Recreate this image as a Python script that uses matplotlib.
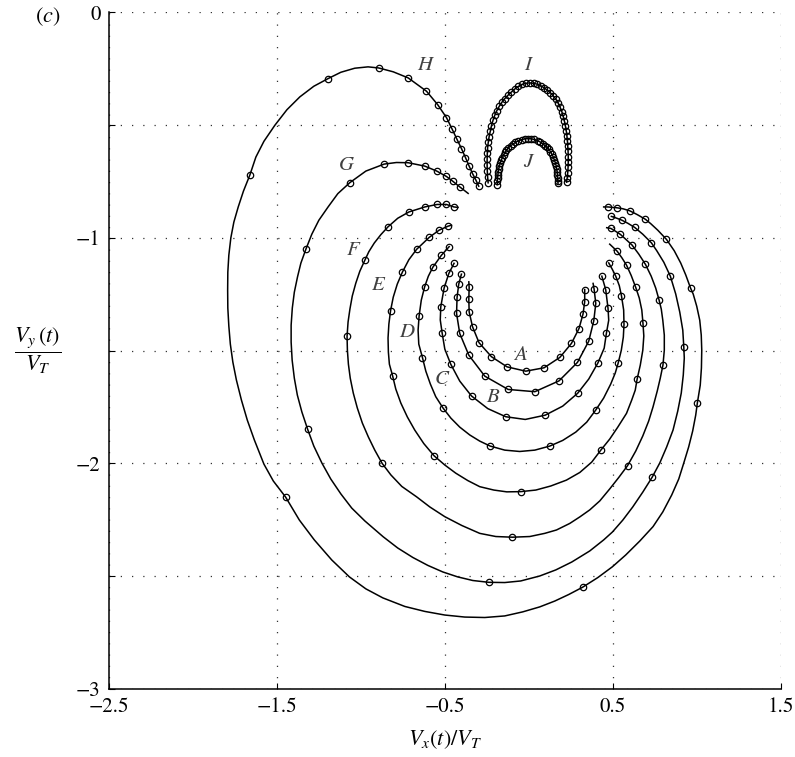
import matplotlib
matplotlib.use("Agg")
import matplotlib.pyplot as plt

plt.rcParams['font.family'] = 'STIXGeneral'
plt.rcParams['mathtext.fontset'] = 'stix'

# trajectories A..H : (Vx/VT, Vy/VT, 1 = sample marker / 0 = line only)
curve_A = [(-0.357, -1.195, 0), (-0.355, -1.220, 1), (-0.357, -1.272, 1), (-0.355, -1.328, 1),
           (-0.335, -1.394, 1), (-0.296, -1.465, 1), (-0.222, -1.527, 1), (-0.129, -1.572, 1),
           (-0.018, -1.591, 1), (0.091, -1.576, 1), (0.185, -1.530, 1), (0.254, -1.468, 1),
           (0.299, -1.402, 1), (0.323, -1.338, 1), (0.333, -1.283, 1), (0.333, -1.229, 1)]

curve_B = [(-0.401, -1.161, 1), (-0.417, -1.205, 1), (-0.427, -1.264, 1), (-0.430, -1.335, 1),
           (-0.411, -1.424, 1), (-0.357, -1.520, 1), (-0.262, -1.613, 1), (-0.123, -1.672, 1),
           (0.036, -1.682, 1), (0.180, -1.634, 1), (0.290, -1.552, 1), (0.357, -1.458, 1),
           (0.387, -1.368, 1), (0.399, -1.291, 1), (0.389, -1.227, 1), (0.383, -1.202, 0)]

curve_C = [(-0.445, -1.113, 1), (-0.476, -1.158, 1), (-0.504, -1.222, 1), (-0.524, -1.306, 1),
           (-0.527, -1.364, 0), (-0.516, -1.421, 1), (-0.500, -1.493, 0), (-0.464, -1.561, 1),
           (-0.411, -1.635, 0), (-0.341, -1.701, 1), (-0.244, -1.757, 0), (-0.137, -1.793, 1),
           (-0.021, -1.805, 0), (0.098, -1.786, 1), (0.202, -1.746, 0), (0.291, -1.689, 1),
           (0.357, -1.626, 0), (0.412, -1.554, 1), (0.449, -1.489, 0), (0.462, -1.424, 1),
           (0.476, -1.365, 0), (0.472, -1.313, 1), (0.458, -1.229, 1), (0.435, -1.170, 1)]

curve_D = [(-0.474, -1.039, 1), (-0.520, -1.077, 1), (-0.571, -1.130, 1), (-0.598, -1.170, 0),
           (-0.620, -1.217, 1), (-0.640, -1.276, 0), (-0.653, -1.346, 1), (-0.659, -1.409, 0),
           (-0.655, -1.471, 0), (-0.633, -1.531, 1), (-0.613, -1.591, 0), (-0.586, -1.648, 0),
           (-0.554, -1.704, 0), (-0.510, -1.755, 1), (-0.464, -1.799, 0), (-0.411, -1.839, 0),
           (-0.351, -1.874, 0), (-0.292, -1.901, 0), (-0.230, -1.923, 1), (-0.143, -1.941, 0),
           (-0.054, -1.947, 0), (0.036, -1.941, 0), (0.125, -1.923, 1), (0.202, -1.898, 0),
           (0.280, -1.861, 0), (0.345, -1.817, 0), (0.399, -1.763, 1), (0.446, -1.710, 0),
           (0.488, -1.648, 0), (0.515, -1.599, 0), (0.532, -1.556, 1), (0.551, -1.498, 0),
           (0.563, -1.440, 0), (0.567, -1.384, 1), (0.565, -1.320, 0), (0.552, -1.257, 1),
           (0.539, -1.212, 0), (0.518, -1.170, 1), (0.497, -1.139, 0), (0.476, -1.111, 1)]

curve_E = [(-0.460, -0.944, 0), (-0.480, -0.948, 1), (-0.534, -0.966, 1), (-0.593, -0.998, 1),
           (-0.668, -1.051, 1), (-0.714, -1.097, 0), (-0.752, -1.151, 1), (-0.783, -1.205, 0),
           (-0.807, -1.263, 0), (-0.823, -1.323, 1), (-0.833, -1.382, 0), (-0.838, -1.444, 0),
           (-0.836, -1.506, 0), (-0.830, -1.560, 0), (-0.811, -1.611, 1), (-0.792, -1.670, 0),
           (-0.762, -1.732, 0), (-0.723, -1.794, 0), (-0.679, -1.852, 0), (-0.625, -1.912, 0),
           (-0.564, -1.966, 1), (-0.500, -2.007, 0), (-0.435, -2.043, 0), (-0.363, -2.076, 0),
           (-0.292, -2.103, 0), (-0.208, -2.118, 0), (-0.131, -2.126, 0), (-0.048, -2.125, 1),
           (0.042, -2.118, 0), (0.131, -2.100, 0), (0.224, -2.074, 0), (0.304, -2.040, 0),
           (0.375, -1.994, 0), (0.429, -1.941, 1), (0.482, -1.892, 0), (0.530, -1.839, 0),
           (0.582, -1.778, 0), (0.613, -1.719, 0), (0.634, -1.675, 0), (0.645, -1.627, 1),
           (0.664, -1.564, 0), (0.679, -1.498, 0), (0.685, -1.435, 0), (0.680, -1.379, 1),
           (0.673, -1.320, 0), (0.658, -1.267, 0), (0.637, -1.220, 1), (0.610, -1.167, 0),
           (0.582, -1.121, 1), (0.554, -1.088, 0), (0.526, -1.059, 1), (0.482, -1.028, 0)]

curve_F = [(-0.421, -0.865, 0), (-0.446, -0.863, 1), (-0.490, -0.852, 1), (-0.546, -0.852, 1),
           (-0.619, -0.863, 1), (-0.713, -0.885, 1), (-0.780, -0.913, 0), (-0.838, -0.951, 1),
           (-0.881, -0.986, 0), (-0.920, -1.023, 0), (-0.952, -1.061, 0), (-0.976, -1.099, 1),
           (-1.006, -1.148, 0), (-1.030, -1.201, 0), (-1.051, -1.258, 0), (-1.065, -1.316, 0),
           (-1.076, -1.373, 0), (-1.082, -1.436, 1), (-1.080, -1.498, 0), (-1.074, -1.560, 0),
           (-1.063, -1.622, 0), (-1.045, -1.688, 0), (-1.021, -1.754, 0), (-0.991, -1.821, 0),
           (-0.955, -1.883, 0), (-0.917, -1.941, 0), (-0.873, -2.000, 1), (-0.821, -2.051, 0),
           (-0.756, -2.102, 0), (-0.668, -2.148, 0), (-0.589, -2.193, 0), (-0.500, -2.236, 0),
           (-0.399, -2.275, 0), (-0.292, -2.310, 0), (-0.196, -2.324, 0), (-0.097, -2.327, 1),
           (0.006, -2.324, 0), (0.095, -2.310, 0), (0.165, -2.295, 0), (0.244, -2.266, 0),
           (0.304, -2.237, 0), (0.363, -2.206, 0), (0.423, -2.166, 0), (0.482, -2.113, 0),
           (0.536, -2.062, 0), (0.588, -2.010, 1), (0.637, -1.945, 0), (0.679, -1.878, 0),
           (0.714, -1.812, 0), (0.740, -1.749, 0), (0.765, -1.679, 0), (0.783, -1.622, 0),
           (0.799, -1.564, 1), (0.807, -1.498, 0), (0.807, -1.431, 0), (0.798, -1.365, 0),
           (0.789, -1.316, 0), (0.776, -1.276, 1), (0.756, -1.223, 0), (0.729, -1.170, 0),
           (0.695, -1.118, 1), (0.655, -1.072, 0), (0.615, -1.032, 1), (0.577, -1.006, 0),
           (0.546, -0.985, 1), (0.515, -0.970, 0), (0.488, -0.958, 1), (0.464, -0.955, 0)]

curve_G = [(-0.361, -0.803, 0), (-0.411, -0.774, 1), (-0.451, -0.750, 1), (-0.490, -0.728, 1),
           (-0.548, -0.704, 1), (-0.619, -0.682, 1), (-0.718, -0.667, 1), (-0.788, -0.666, 0),
           (-0.861, -0.673, 1), (-0.970, -0.704, 0), (-1.065, -0.755, 1), (-1.137, -0.804, 0),
           (-1.195, -0.863, 0), (-1.250, -0.922, 0), (-1.292, -0.984, 0), (-1.327, -1.050, 1),
           (-1.357, -1.112, 0), (-1.377, -1.173, 0), (-1.396, -1.241, 0), (-1.408, -1.311, 0),
           (-1.415, -1.387, 0), (-1.415, -1.462, 0), (-1.409, -1.542, 0), (-1.396, -1.622, 0),
           (-1.378, -1.697, 0), (-1.351, -1.772, 0), (-1.317, -1.848, 1), (-1.280, -1.923, 0),
           (-1.232, -1.998, 0), (-1.179, -2.069, 0), (-1.119, -2.135, 0), (-1.054, -2.198, 0),
           (-0.976, -2.255, 0), (-0.867, -2.325, 0), (-0.780, -2.375, 0), (-0.690, -2.417, 0),
           (-0.601, -2.452, 0), (-0.512, -2.481, 0), (-0.423, -2.503, 0), (-0.333, -2.519, 0),
           (-0.238, -2.527, 1), (-0.143, -2.528, 0), (-0.048, -2.521, 0), (0.065, -2.499, 0),
           (0.161, -2.472, 0), (0.256, -2.437, 0), (0.363, -2.388, 0), (0.446, -2.339, 0),
           (0.498, -2.304, 0), (0.560, -2.251, 0), (0.619, -2.193, 0), (0.679, -2.127, 0),
           (0.734, -2.062, 1), (0.780, -1.998, 0), (0.821, -1.927, 0), (0.859, -1.852, 0),
           (0.887, -1.768, 0), (0.908, -1.688, 0), (0.920, -1.608, 0), (0.926, -1.533, 0),
           (0.923, -1.483, 1), (0.917, -1.409, 0), (0.899, -1.329, 0), (0.875, -1.249, 0),
           (0.843, -1.170, 1), (0.804, -1.108, 0), (0.762, -1.057, 0), (0.730, -1.022, 1),
           (0.679, -0.984, 0), (0.631, -0.954, 1), (0.589, -0.935, 0), (0.555, -0.922, 1),
           (0.524, -0.913, 0), (0.492, -0.905, 1)]

curve_H = [(-0.298, -0.771, 1), (-0.315, -0.744, 1), (-0.335, -0.715, 1), (-0.355, -0.682, 1),
           (-0.377, -0.644, 1), (-0.401, -0.604, 1), (-0.427, -0.564, 1), (-0.457, -0.517, 1),
           (-0.490, -0.467, 1), (-0.543, -0.409, 1), (-0.609, -0.350, 1), (-0.718, -0.291, 1),
           (-0.807, -0.264, 0), (-0.893, -0.247, 1), (-0.957, -0.242, 0), (-1.036, -0.248, 0),
           (-1.119, -0.266, 0), (-1.195, -0.294, 1), (-1.280, -0.328, 0), (-1.363, -0.375, 0),
           (-1.440, -0.432, 0), (-1.512, -0.501, 0), (-1.577, -0.572, 0), (-1.625, -0.642, 0),
           (-1.661, -0.722, 1), (-1.699, -0.793, 0), (-1.730, -0.863, 0), (-1.756, -0.930, 0),
           (-1.774, -1.000, 0), (-1.786, -1.077, 0), (-1.792, -1.152, 0), (-1.793, -1.232, 0),
           (-1.792, -1.311, 0), (-1.786, -1.391, 0), (-1.777, -1.471, 0), (-1.762, -1.551, 0),
           (-1.741, -1.630, 0), (-1.711, -1.719, 0), (-1.676, -1.808, 0), (-1.634, -1.896, 0),
           (-1.577, -2.003, 0), (-1.521, -2.078, 0), (-1.448, -2.149, 1), (-1.366, -2.251, 0),
           (-1.277, -2.339, 0), (-1.173, -2.428, 0), (-1.068, -2.503, 0), (-0.970, -2.556, 0),
           (-0.869, -2.596, 0), (-0.738, -2.634, 0), (-0.619, -2.656, 0), (-0.500, -2.672, 0),
           (-0.381, -2.681, 0), (-0.262, -2.683, 0), (-0.143, -2.676, 0), (-0.036, -2.658, 0),
           (0.065, -2.636, 0), (0.155, -2.610, 0), (0.238, -2.581, 0), (0.320, -2.549, 1),
           (0.411, -2.506, 0), (0.498, -2.458, 0), (0.577, -2.406, 0), (0.661, -2.344, 0),
           (0.740, -2.280, 0), (0.798, -2.215, 0), (0.851, -2.140, 0), (0.893, -2.069, 0),
           (0.923, -1.998, 0), (0.952, -1.927, 0), (0.976, -1.856, 0), (0.994, -1.786, 0),
           (1.004, -1.731, 1), (1.021, -1.653, 0), (1.028, -1.577, 0), (1.030, -1.498, 0),
           (1.027, -1.431, 0), (1.018, -1.365, 0), (1.000, -1.303, 0), (0.979, -1.249, 0),
           (0.964, -1.224, 1), (0.935, -1.165, 0), (0.905, -1.112, 0), (0.866, -1.057, 0),
           (0.820, -1.007, 1), (0.768, -0.966, 0), (0.726, -0.937, 0), (0.695, -0.918, 1),
           (0.646, -0.897, 0), (0.601, -0.880, 1), (0.560, -0.871, 0), (0.528, -0.867, 1),
           (0.472, -0.863, 1), (0.446, -0.863, 0)]

# arches I and J, densely sampled
curve_I = [(-0.242, -0.756), (-0.245, -0.730), (-0.247, -0.704), (-0.248, -0.678), (-0.248, -0.652),
           (-0.247, -0.626), (-0.245, -0.600), (-0.241, -0.575), (-0.236, -0.551), (-0.229, -0.527),
           (-0.222, -0.503), (-0.213, -0.479), (-0.202, -0.456), (-0.190, -0.436), (-0.176, -0.417),
           (-0.160, -0.399), (-0.143, -0.383), (-0.124, -0.368), (-0.104, -0.354), (-0.083, -0.340),
           (-0.062, -0.329), (-0.040, -0.320), (-0.017, -0.315), (0.006, -0.313), (0.029, -0.315),
           (0.051, -0.319), (0.072, -0.326), (0.092, -0.335), (0.111, -0.346), (0.129, -0.357),
           (0.146, -0.371), (0.162, -0.386), (0.175, -0.403), (0.187, -0.422), (0.197, -0.441),
           (0.205, -0.461), (0.212, -0.482), (0.218, -0.503), (0.223, -0.525), (0.227, -0.547),
           (0.230, -0.570), (0.232, -0.593), (0.234, -0.616), (0.235, -0.640), (0.235, -0.664),
           (0.234, -0.688), (0.232, -0.711), (0.229, -0.733), (0.225, -0.753)]

curve_J = [(-0.188, -0.764), (-0.187, -0.750), (-0.186, -0.736), (-0.184, -0.722), (-0.182, -0.709),
           (-0.179, -0.695), (-0.175, -0.682), (-0.170, -0.669), (-0.164, -0.656), (-0.157, -0.644),
           (-0.149, -0.632), (-0.141, -0.621), (-0.133, -0.611), (-0.121, -0.601), (-0.108, -0.592),
           (-0.094, -0.584), (-0.080, -0.577), (-0.062, -0.570), (-0.043, -0.565), (-0.024, -0.561),
           (-0.004, -0.560), (0.015, -0.561), (0.034, -0.564), (0.052, -0.569), (0.068, -0.575),
           (0.082, -0.582), (0.096, -0.591), (0.108, -0.598), (0.119, -0.607), (0.129, -0.618),
           (0.138, -0.630), (0.146, -0.642), (0.152, -0.654), (0.158, -0.667), (0.163, -0.680),
           (0.166, -0.693), (0.169, -0.707), (0.171, -0.721), (0.172, -0.735), (0.173, -0.748),
           (0.174, -0.758)]

# curve labels and where they sit
labels = ['A', 'B', 'C', 'D', 'E', 'F', 'G', 'H', 'I', 'J']
label_x = [-0.049, -0.213, -0.520, -0.728, -0.901, -1.046, -1.085, -0.619, -0.004, -0.004]
label_y = [-1.520, -1.704, -1.623, -1.416, -1.210, -1.051, -0.678, -0.235, -0.235, -0.663]

xticks = [-2.5, -1.5, -0.5, 0.5, 1.5]
xtick_labels = ['\u22122.5', '\u22121.5', '\u22120.5', '0.5', '1.5']
yticks = [-3, -2.5, -2, -1.5, -1, -0.5, 0]
ytick_labels = ['\u22123', '', '\u22122', '', '\u22121', '', '0']

fig = plt.figure(figsize=(7.95, 7.57), dpi=100)
ax = fig.add_axes([0.137, 0.0898, 0.845, 0.894])

for c in [curve_A, curve_B, curve_C, curve_D, curve_E, curve_F, curve_G, curve_H]:
    ax.plot([p[0] for p in c], [p[1] for p in c], 'k-', lw=1.1, zorder=3)
    ax.plot([p[0] for p in c if p[2]], [p[1] for p in c if p[2]], 'o', ls='none',
            ms=4.6, mfc='none', mec='k', mew=0.9, zorder=4)

for c in [curve_I, curve_J]:
    ax.plot([p[0] for p in c], [p[1] for p in c], 'k-', marker='o', lw=1.1,
            ms=4.6, mfc='none', mec='k', mew=0.9, zorder=4)

for t, x, y in zip(labels, label_x, label_y):
    ax.text(x, y, t, fontsize=15, fontstyle='italic', color='0.25',
            ha='center', va='center')

ax.set_xlim(-2.5, 1.5)
ax.set_ylim(-3, 0)
ax.set_xticks(xticks)
ax.set_xticklabels(xtick_labels)
ax.set_yticks(yticks)
ax.set_yticklabels(ytick_labels)
ax.tick_params(direction='in', length=4, width=0.8, labelsize=15, pad=6)
ax.grid(True, linestyle=(0, (1, 8)), color='0.2', lw=0.9)
ax.spines['top'].set_visible(False)
ax.spines['right'].set_visible(False)
ax.spines['left'].set_linewidth(1.1)
ax.spines['bottom'].set_linewidth(1.1)

ax.set_xlabel(r'$V_x(t)/V_T$', fontsize=16, labelpad=8)
ax.set_ylabel(r'$\dfrac{V_y\,(t)}{V_T}$', fontsize=16, rotation=0, ha='center', va='center')
ax.yaxis.set_label_coords(-0.106, 0.5)

fig.text(0.060, 0.978, r'($c$)', fontsize=16, ha='center', va='center')

fig.savefig('out.png', dpi=100)
